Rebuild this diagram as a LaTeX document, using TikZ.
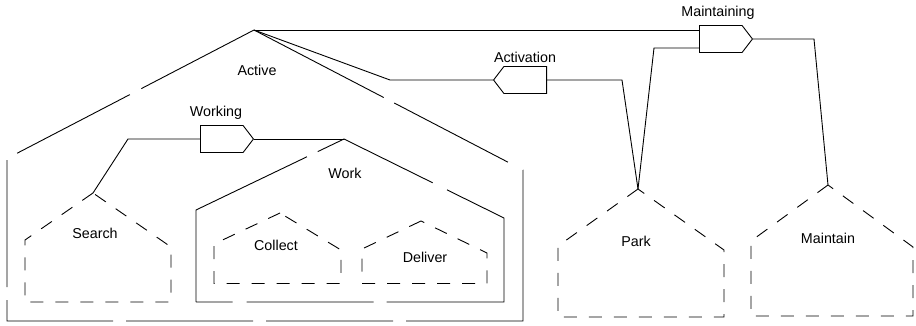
\documentclass[tikz,border=0pt]{standalone}
\usepackage{fontspec}
\setmainfont{Liberation Sans}
\usetikzlibrary{shapes.symbols, positioning}

\begin{document}
\begin{tikzpicture}[
    x=1pt, y=-1pt,
    line width=0.9pt,
    compound/.style={draw, dash pattern=#1},
    leaf/.style={draw, dash pattern=on 13pt off 12pt},
    gate/.style={draw, signal, signal pointer angle=105, inner sep=0pt,
        minimum width=53pt, minimum height=27pt},
    lbl/.style={font=\fontsize{14.3}{17}\selectfont},
]
\useasboundingbox (0,0) rectangle (916,325);

% ---- roof tops of the states ----
\coordinate (active) at (254,30);
\coordinate (work)   at (344,139);
\coordinate (search) at (93,193);
\coordinate (collect) at (280,213);
\coordinate (deliver) at (421,221);
\coordinate (park)   at (638,189);
\coordinate (maint)  at (828,185);

% ---- composite states (long dashes) ----
\draw[compound={on 127pt off 13pt on 127pt off 13pt on 127pt off 13pt
        on 127pt off 13pt on 127pt off 13pt on 127pt off 13pt
        on 268pt off 17pt on 128pt off 12pt on 200pt off 1pt}]
    (active) -- (7,158.5) -- (7,321) -- (523,321) -- (523,170) -- cycle;
\draw[compound={on 215pt off 12pt on 128pt off 16pt on 265pt off 13pt
        on 127pt off 14pt on 60pt off 1pt}]
    (196,302) -- (196,210) -- (work) -- (504,218) -- (504,302) -- cycle;

% ---- simple states ----
\draw[leaf] (search) -- (25,240) -- (25,302) -- (171,302) -- (171,247) -- cycle;
\draw[leaf] (collect) -- (214,244) -- (214,283.5) -- (341,283.5) -- (341,250) -- cycle;
\draw[leaf] (deliver) -- (362,249) -- (362,283.5) -- (487,283.5) -- (487,253) -- cycle;
\draw[leaf] (park) -- (558,246) -- (558,317) -- (724,317) -- (724,250) -- cycle;
\draw[leaf] (maint) -- (751,241) -- (751,316) -- (913,316) -- (913,247) -- cycle;

% state names
\node[lbl] (activelbl)  at (257,70)  {Active};
\node[lbl] (worklbl)    at (345,173) {Work};
\node[lbl] (searchlbl)  at (95,233)  {Search};
\node[lbl] (collectlbl) at (276,245) {Collect};
\node[lbl] (deliverlbl) at (425,257) {Deliver};
\node[lbl] (parklbl)    at (636,241) {Park};
\node[lbl] (maintlbl)   at (828,238) {Maintain};

% ---- transitions ----
\node[gate, signal to=east, anchor=west] (working)     at (200,139) {};
\node[gate, signal to=west, anchor=east] (activation)  at (547,80)  {};
\node[gate, signal to=east, anchor=west] (maintaining) at (699,39)  {};

\node[lbl] (workinglbl)     at (216,113) {Working};
\node[lbl] (activationlbl)  at (525,57)  {Activation};
\node[lbl] (maintaininglbl) at (718,13)  {Maintaining};

\coordinate (wkbend) at (128,139);
\coordinate (acbend) at (390,80);
\coordinate (pkbend) at (622,80);
\coordinate (pkup)   at (654,48);
\coordinate (mtbend) at (814,39);

\draw (search) -- (wkbend) -- (working.west);
\draw (working.east) -- (work);
\draw (park) -- (pkbend) -- (activation.east);
\draw (activation.west) -- (acbend) -- (active);
\draw (active) -- (active -| maintaining.west);
\draw (park) -- (pkup) -- (pkup -| maintaining.west);
\draw (maintaining.east) -- (mtbend) -- (maint);

\end{tikzpicture}
\end{document}
